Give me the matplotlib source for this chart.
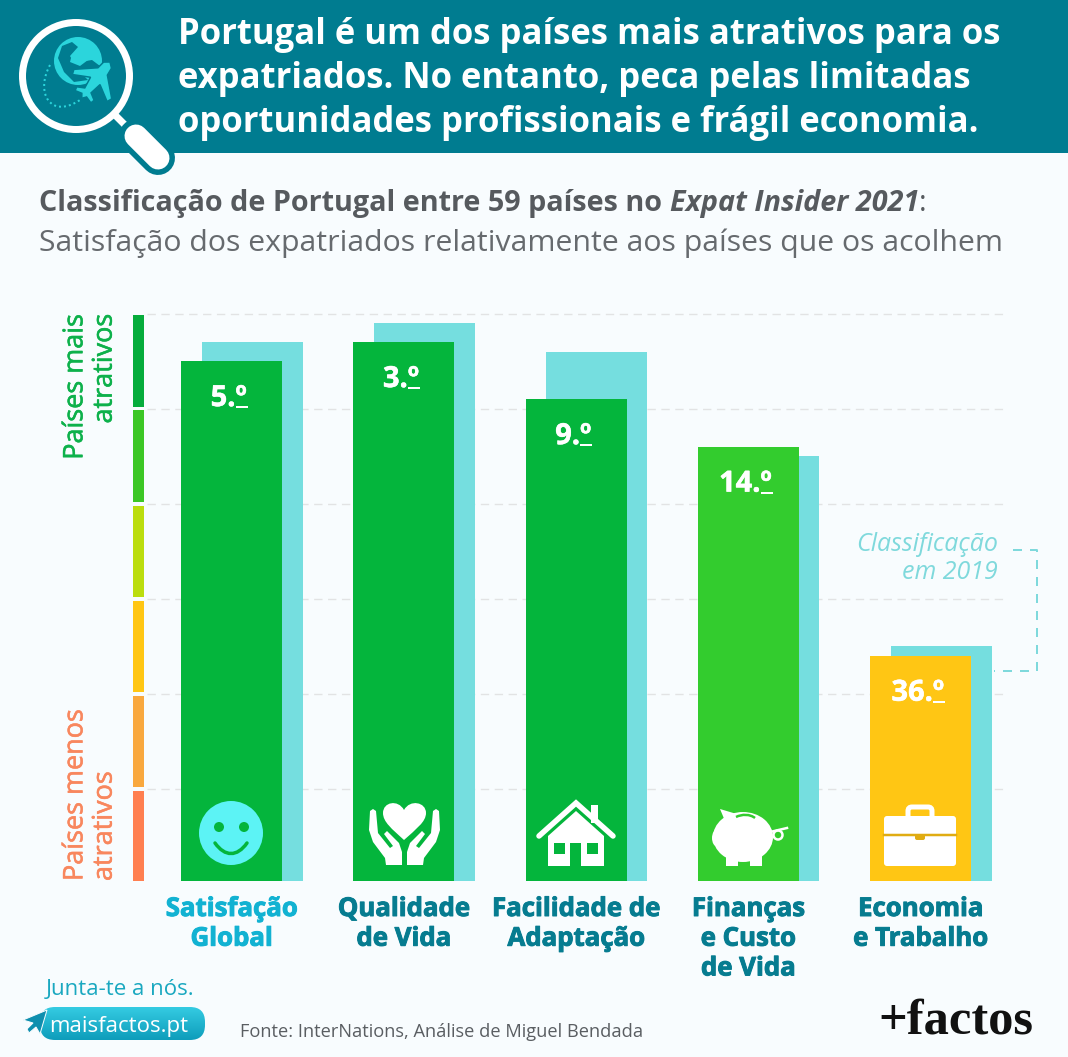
import numpy as np
import matplotlib
matplotlib.use('Agg')
import matplotlib.pyplot as plt
import matplotlib.patheffects as pe
from matplotlib.patches import Circle, Ellipse, FancyBboxPatch, PathPatch, Polygon, Rectangle
from matplotlib.path import Path

categories = ['Satisfação\nGlobal', 'Qualidade\nde Vida', 'Facilidade de\nAdaptação',
              'Finanças\ne Custo\nde Vida', 'Economia\ne Trabalho']
rank_2021 = [5, 3, 9, 14, 36]
rank_2019 = [3, 1, 4, 15, 35]
bar_colors = ['#04B53C', '#04B53C', '#04B53C', '#33CC2E', '#FFC614']
label_colors = ['#12B2D2', '#067C90', '#067C90', '#067C90', '#067C90']
band_edges = [0, 10, 20, 30, 40, 50, 59.7]
band_colors = ['#06AC3C', '#3CC725', '#BBDD0E', '#FFC614', '#F9A83E', '#FF7F50']
grid_ranks = [0, 10, 20, 30, 40, 50]

title_lines = ['Portugal é um dos países mais atrativos para os',
               'expatriados. No entanto, peca pelas limitadas',
               'oportunidades profissionais e frágil economia.']

BG = '#F8FCFE'
TEAL = '#007C90'
BACK = '#75DEDF'
W, H = 1068, 1057
FONT = 'Open Sans'
plt.rcParams['font.family'] = [FONT, 'DejaVu Sans']


def px(v):
    return v * 0.72


def heavier(t, w=0.5):
    # a letra original é mais pesada do que a Open Sans
    t.set_path_effects([pe.withStroke(linewidth=w, foreground=t.get_color())])


fig = plt.figure(figsize=(W / 100, H / 100), dpi=100, facecolor=BG)

# eixos do gráfico: 172.25 px por categoria, 9.5 px por lugar
ax = fig.add_axes([133 / W, 1 - 881 / H, (1008 - 133) / W, (881 - 313.5) / H])
ax.set_xlim((133 - 231.5) / 172.25, (1008 - 231.5) / 172.25)
ax.set_ylim(59.7, 0)
ax.patch.set_alpha(0)
for s in ax.spines.values():
    s.set_visible(False)

x = np.arange(len(categories))
bar_w = 101 / 172.25
shift = 20.5 / 172.25

ax.hlines(grid_ranks, (147 - 231.5) / 172.25, ax.get_xlim()[1], color='#E2E3E4', lw=1,
          linestyles=(0, (6, 4)), zorder=1, clip_on=False)
ax.bar(x + shift, np.array(rank_2019) - 59.7, bottom=59.7, width=bar_w, color=BACK, zorder=2)
ax.bar(x, np.array(rank_2021) - 59.7, bottom=59.7, width=bar_w, color=bar_colors, zorder=3)

# escala de cores à esquerda
for i, c in enumerate(band_colors):
    top = band_edges[i] + 0.2
    bottom = band_edges[i + 1] - (0.2 if i < 5 else 0)
    ax.barh((top + bottom) / 2, 11 / 172.25, height=bottom - top, left=ax.get_xlim()[0], color=c, zorder=3)

ax.set_yticks([])
ax.set_xticks(x, categories, fontsize=px(25.8), fontweight='bold', linespacing=1.13)
ax.tick_params(axis='x', length=0, pad=px(14))
for t, c in zip(ax.get_xticklabels(), label_colors):
    t.set_color(c)
    heavier(t, 0.7)

# camada em pixels para cabeçalho, ícones e notas
ov = fig.add_axes([0, 0, 1, 1], zorder=5)
ov.set_xlim(0, W)
ov.set_ylim(H, 0)
ov.axis('off')
ov.add_patch(Rectangle((0, 0), W, 153, color=TEAL, lw=0))

renderer = fig.canvas.get_renderer()

# etiquetas dos lugares, com o º sublinhado
for xi, r in zip(x, rank_2021):
    t = ax.annotate(f'{r}.º', (xi, r), xytext=(-2, px(-45)), textcoords='offset points', ha='center',
                    va='baseline', color='white', fontsize=px(29), fontweight='bold', zorder=6)
    heavier(t, 0.4)
    bb = t.get_window_extent(renderer)
    base = H - ax.transData.transform((xi, r))[1] + 45
    ov.plot([bb.x1 - 11, bb.x1 + 1], [base + 1, base + 1], color='white', lw=px(2), solid_capstyle='butt')

# título
for line, y in zip(title_lines, [44, 88, 132]):
    ov.text(178, y, line, color='white', fontsize=px(34.6), fontweight='bold', va='baseline')

# subtítulo em partes
runs = [('Classificação de Portugal entre 59 países no ', 'bold', 'normal'),
        ('Expat Insider 2021', 'bold', 'italic'), (':', 'normal', 'normal')]
cx = 39
for s, fw, st in runs:
    t = ov.text(cx, 211, s.replace(' ', '\u00a0'), color='#565A5E', fontsize=px(28.8), fontweight=fw, fontstyle=st, va='baseline')
    cx = t.get_window_extent(renderer).x1
ov.text(39, 251, 'Satisfação dos expatriados relativamente aos países que os acolhem',
        color='#666A6E', fontsize=px(30.2), va='baseline')

# legendas do eixo
t = ov.text(90, 314, 'Países mais\natrativos', rotation=90, color='#0DB14B', fontsize=px(27), ha='center', va='top',
            multialignment='right', linespacing=1.06)
heavier(t, 0.4)
t = ov.text(90, 881, 'Países menos\natrativos', rotation=90, color='#F8875E', fontsize=px(27), ha='center', va='bottom',
            multialignment='left', linespacing=1.06)
heavier(t, 0.4)

# nota de 2019
ov.text(998, 551, 'Classificação', color='#7FD9DC', fontsize=px(25), fontstyle='italic', ha='right', va='baseline')
ov.text(998, 579, 'em 2019', color='#7FD9DC', fontsize=px(25), fontstyle='italic', ha='right', va='baseline')
ov.plot([1013, 1037, 1037, 994], [550, 550, 671, 671], color='#7FD9DC', lw=px(2), ls=(0, (4.5, 4)))

# lupa
ov.plot([112, 130], [112, 130], color='white', lw=px(7), solid_capstyle='butt')
ov.plot([136, 158], [136, 158], color=TEAL, lw=px(34), solid_capstyle='round')
ov.plot([136, 158], [136, 158], color='white', lw=px(23), solid_capstyle='round')
ov.add_patch(Circle((76, 76), 53.5, fc='none', ec='white', lw=px(7)))
GL = '#2BD5DC'
ov.add_patch(Circle((78, 61), 24, fc=GL, lw=0))
ov.add_patch(Polygon([(62, 46), (72, 42), (78, 47), (70, 56), (74, 63), (92, 60), (100, 66), (90, 72), (78, 70),
                      (88, 80), (74, 82), (64, 72), (58, 58)], fc=TEAL, lw=0))
ov.add_patch(Polygon([(72, 54), (84, 50), (92, 57), (80, 66), (70, 62)], fc=GL, lw=0))
# avião desenhado ao longo do seu eixo, do nariz à cauda
half = [(0, 0), (4, 5), (12, 6), (28, 24), (33, 22), (24, 6), (36, 4), (40, 11), (44, 10), (42, 3), (46, 0)]
profile = half + [(a, -b) for a, b in half[-2:0:-1]]
nose, along, across = np.array([110, 62]), np.array([-0.614, 0.789]), np.array([0.789, 0.614])
ov.add_patch(Polygon([nose + a * along + b * across for a, b in profile], fc=GL, ec=TEAL, lw=px(1.5)))
ov.add_patch(PathPatch(Path([(50, 65), (35, 92), (50, 120), (80, 100)], [Path.MOVETO, Path.CURVE4, Path.CURVE4, Path.CURVE4]),
                       fc='none', ec=GL, lw=px(2), ls=(0, (1, 1.5))))

# sorriso
G1 = '#04B53C'
ov.add_patch(Circle((231, 833), 32, fc='#5CF3F5', lw=0))
ov.add_patch(Circle((219, 827), 5, fc=G1, lw=0))
ov.add_patch(Circle((244, 827), 5, fc=G1, lw=0))
ov.add_patch(PathPatch(Path([(215, 843), (225, 857), (237, 857), (247, 843)], [Path.MOVETO, Path.CURVE4, Path.CURVE4, Path.CURVE4]),
                       fc='none', ec=G1, lw=px(3.5), capstyle='round'))

# mãos e coração
heart = Path([(404, 840), (392, 829), (383, 822), (383, 813), (383, 802), (398, 799), (404, 810),
              (410, 799), (426, 802), (426, 813), (426, 822), (416, 829), (404, 840)],
             [Path.MOVETO] + [Path.CURVE4] * 12)
ov.add_patch(PathPatch(heart, fc='white', lw=0))
hand = [(370, 811), (373, 809), (376, 811), (378, 833), (390, 848), (393, 846), (384, 834), (387, 831), (399, 843),
        (402, 852), (402, 865), (386, 865), (385, 858), (373, 842), (369, 830)]
ov.add_patch(Polygon(hand, fc='white', lw=0))
ov.add_patch(Polygon([(2 * 404.5 - a, b) for a, b in hand], fc='white', lw=0))

# casa
ov.plot([539, 576, 613], [836, 803, 836], color='white', lw=px(5.5), solid_capstyle='round', solid_joinstyle='miter')
ov.add_patch(Rectangle((591, 805), 7, 18, fc='white', lw=0))
ov.add_patch(Polygon([(576, 811), (604, 836), (604, 866), (548, 866), (548, 836)], fc='white', lw=0))
for xr, yr, wr, hr in [(554, 843, 11, 11), (587, 843, 11, 11), (570, 843, 11, 23)]:
    ov.add_patch(Rectangle((xr, yr), wr, hr, fc=G1, lw=0))

# mealheiro
G2 = '#33CC2E'
ov.add_patch(Ellipse((743, 837), 60, 50, fc='white', lw=0))
ov.add_patch(Ellipse((717, 838), 10, 17, fc='white', lw=0))
ov.add_patch(Polygon([(720, 809), (740, 815), (728, 828)], fc='white', lw=0))
ov.add_patch(Rectangle((726, 852), 12, 14, fc='white', lw=0))
ov.add_patch(Rectangle((750, 852), 12, 14, fc='white', lw=0))
ov.add_patch(Circle((778, 835), 4.5, fc='none', ec='white', lw=px(2.5)))
ov.plot([770, 787], [832, 828], color='white', lw=px(2.5))
ov.add_patch(PathPatch(Path([(736, 817), (742, 814), (750, 814), (755, 818)], [Path.MOVETO, Path.CURVE4, Path.CURVE4, Path.CURVE4]),
                       fc='none', ec=G2, lw=px(2.5)))

# pasta
ov.add_patch(FancyBboxPatch((908, 807), 24, 14, boxstyle='round,pad=0,rounding_size=4', fc='none', ec='white', lw=px(5)))
ov.add_patch(FancyBboxPatch((884, 816), 72, 50, boxstyle='round,pad=0,rounding_size=3', fc='white', lw=0))
ov.plot([884, 956], [835, 835], color='#E0AC12', lw=px(2.5))
ov.add_patch(FancyBboxPatch((915, 834), 10, 6, boxstyle='round,pad=0,rounding_size=2', fc='#E0AC12', lw=0))

# rodapé
ov.text(46, 995, 'Junta-te a nós.', color='#1AA8C0', fontsize=px(22.3), va='baseline')
pill = FancyBboxPatch((40, 1007), 165, 33, boxstyle='round,pad=0,rounding_size=15', fc='none', lw=0)
ov.add_patch(pill)
grad = ov.imshow(np.linspace(0, 1, 40)[:, None], extent=(40, 205, 1040, 1007), aspect='auto',
                 cmap=matplotlib.colors.LinearSegmentedColormap.from_list('pill', ['#34CBE2', '#0E9DBB']), origin='upper')
grad.set_clip_path(pill)
ov.set_xlim(0, W)
ov.set_ylim(H, 0)
ov.add_patch(Polygon([(23, 1020), (47, 1010), (40, 1034), (36, 1027), (29, 1033), (27, 1029), (33, 1023)], fc='#0F8FAE', ec=BG, lw=px(1)))
ov.text(49, 1032, 'maisfactos.pt', color='white', fontsize=px(22.3), va='baseline')
ov.text(240, 1037, 'Fonte: InterNations, Análise de Miguel Bendada', color='#5A5E62', fontsize=px(18.3), va='baseline')
ov.text(878, 1034, '+factos', color='#111111', family='Liberation Serif', fontweight='bold', fontsize=px(50.5), va='baseline')

fig.savefig('out.png', dpi=100, facecolor=BG)
